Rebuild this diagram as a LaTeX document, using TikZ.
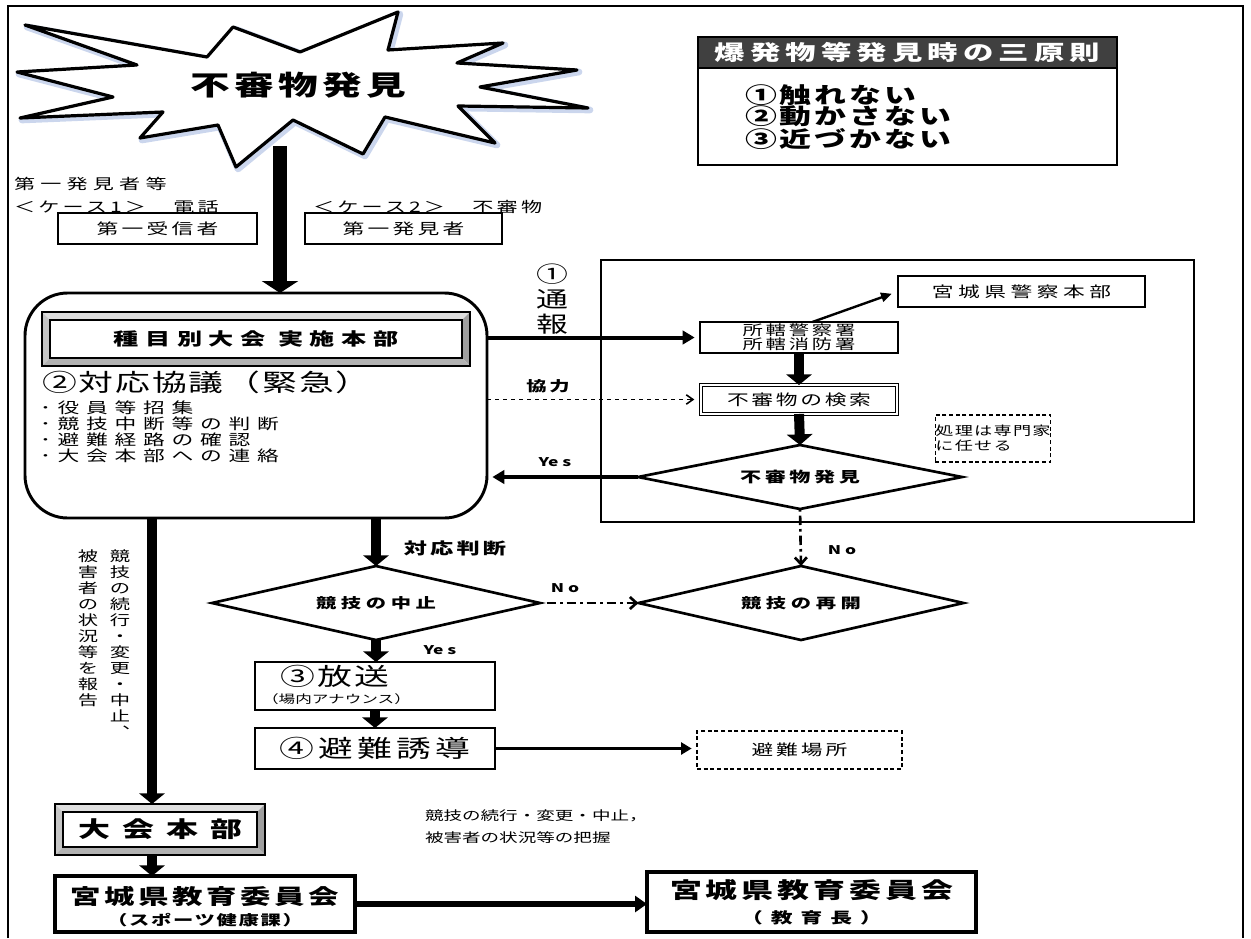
\documentclass[tikz,border=0pt]{standalone}
\usepackage{fontspec}
\setmainfont{Noto Sans CJK JP}[FakeStretch=1.45]
\usetikzlibrary{arrows.meta,shapes.geometric,calc}
\definecolor{hdrgray}{HTML}{404040}
\definecolor{halo}{RGB}{140,165,215}
\newcommand\fz[3]{\fontsize{#1}{#2}\selectfont\addfontfeatures{LetterSpace=#3}}
\newcommand\bevelframe[2]{%
  \fill[gray!25] (#1.north west) -- (#1.north east) -- ($(#1.north east)+(-#2,-#2)$) -- ($(#1.north west)+(#2,-#2)$) -- cycle;
  \fill[gray!45] (#1.north west) -- ($(#1.north west)+(#2,-#2)$) -- ($(#1.south west)+(#2,#2)$) -- (#1.south west) -- cycle;
  \fill[gray!75] (#1.north east) -- (#1.south east) -- ($(#1.south east)+(-#2,#2)$) -- ($(#1.north east)+(-#2,-#2)$) -- cycle;
  \fill[gray!60] (#1.south west) -- (#1.south east) -- ($(#1.south east)+(-#2,#2)$) -- ($(#1.south west)+(#2,#2)$) -- cycle;
  \draw[line width=1.1pt] (#1.north west) rectangle (#1.south east);
  \draw[line width=0.9pt] ($(#1.north west)+(#2,-#2)$) rectangle ($(#1.south east)+(-#2,#2)$);
}
\tikzset{
  every node/.style={inner sep=0pt, outer sep=0pt},
  sz/.code 2 args={\pgfmathsetmacro\szw{#1*0.75}\pgfmathsetmacro\szh{#2*0.75}%
    \edef\szdo{\noexpand\pgfkeysalso{minimum width=\szw pt,minimum height=\szh pt}}\szdo},
  thinbox/.style={draw, line width=1.1pt},
  dashbox/.style={draw, densely dashed, line width=0.8pt},
  thickarrow/.style={line width=7.5pt, -{Triangle[length=8pt,width=19pt]}},
  burstarrow/.style={line width=11pt, -{Triangle[length=9pt,width=27pt]}},
  medarrow/.style={line width=3pt, -{Triangle[length=9pt,width=10pt]}, shorten >=4pt},
  thinarrow/.style={line width=1.8pt, -{Triangle[length=8pt,width=7pt]}, shorten >=5pt},
  cooparrow/.style={line width=0.9pt, dashed, -{Straight Barb[length=5pt,width=7pt,line width=1.2pt]}, shorten >=5pt},
  noarrow/.style={line width=2pt, dash pattern=on 2pt off 3pt on 7pt off 3pt, -{Straight Barb[length=5pt,width=9pt]}},
  decision/.style={draw, diamond, aspect=5, line width=2pt},
}
\begin{document}
\begin{tikzpicture}[x=0.75pt,y=-0.75pt]
\useasboundingbox (0,0) rectangle (1251,938);
% outer frame
\draw[line width=1.3pt] (8,938) -- (8,6) -- (1243,6) -- (1243,938);

% starburst
\draw[line width=5pt, halo, opacity=0.45, line join=round, shift={(2,2)}]
 (25,25) -- (207,57) -- (233,27) -- (300,52) -- (398,12) -- (388,50) -- (503,43) -- (457,63) -- (577,70) -- (480,87) -- (588,108) -- (458,106) -- (495,143) -- (385,117) -- (363,154) -- (293,120) -- (236,167) -- (218,125) -- (140,138) -- (163,112) -- (20,118) -- (113,97) -- (17,72) -- (137,65) -- cycle;
\draw[line width=2.4pt, fill=white, line join=round]
 (25,25) -- (207,57) -- (233,27) -- (300,52) -- (398,12) -- (388,50) -- (503,43) -- (457,63) -- (577,70) -- (480,87) -- (588,108) -- (458,106) -- (495,143) -- (385,117) -- (363,154) -- (293,120) -- (236,167) -- (218,125) -- (140,138) -- (163,112) -- (20,118) -- (113,97) -- (17,72) -- (137,65) -- cycle;
\node[font=\bfseries\fz{20.5}{22}{16}] (burstT) at (298,85) {不審物発見};

% three principles
\node[draw, line width=1.5pt, sz={419}{128}, anchor=north west] (rules) at (698,37) {};
\node[fill=hdrgray, draw=black, line width=0.8pt, sz={419}{31}, anchor=north west, text=white,
      font=\bfseries\fz{15.75}{18}{24}] (hdr) at (698,37) {爆発物等発見時の三原則};
\node[anchor=north west, align=left, font=\bfseries\fz{16.5}{15.75}{14}] (rulesT) at (745,85) {①触れない\\②動かさない\\③近づかない};

% first finder labels
\node[anchor=west, font=\fz{10.9}{12}{36}] (fst) at (14,184) {第一発見者等};
\node[anchor=west, font=\fz{10.9}{12}{22}] (c1) at (14,207) {＜ケース1＞　電話};
\node[anchor=west, font=\fz{10.9}{12}{22}] (c2) at (313,207) {＜ケース2＞　不審物};
\node[thinbox, sz={199}{31}, font=\fz{11.25}{12}{22}] (recv) at (157.5,228.5) {第一受信者};
\node[thinbox, sz={197}{31}, font=\fz{11.25}{12}{22}] (finder) at (403.5,228.5) {第一発見者};

% big rounded box
\node[draw, line width=2.2pt, rounded corners=32pt, sz={462}{225}] (rb) at (256,405.5) {};
\node[sz={428}{54}, font=\bfseries\fz{13}{14}{38}] (jhq) at (256,339) {種目別大会 実施本部};
\bevelframe{jhq}{6pt}
\node[anchor=west, font=\fz{18}{20}{8}] (kyo) at (42,382) {②対応協議（緊急）};
\node[anchor=north west, align=left, font=\fz{11.25}{12}{45}] (bul) at (40,401) {･役員等招集\\･競技中断等の判断\\･避難経路の確認\\･大会本部への連絡};

\coordinate (bs) at (280,146);
\draw[burstarrow] (bs) -- (bs |- rb.north);

% right area
\node[thinbox, sz={593}{262}, anchor=north west] (area) at (601,260) {};
\node[align=center, font=\fz{16.5}{18.75}{0}] (tsuho) at (552,299) {①\\通\\報};
\node[thinbox, sz={198}{31}, align=center, font=\fz{10.5}{10.5}{20}] (sho) at (799,337.5) {所轄警察署\\所轄消防署};
\node[thinbox, sz={247}{31}, font=\fz{11.25}{12}{30}] (pol) at (1021.5,291.5) {宮城県警察本部};
\node[draw, double, double distance=1.5pt, line width=0.6pt, sz={196}{29}, font=\fz{11.25}{12}{18}] (ken) at (799,399.5) {不審物の検索};
\node[decision, sz={324}{64}, font=\bfseries\fz{10.9}{12}{25}] (d1) at (800,477) {不審物発見};
\node[dashbox, sz={106}{47}, align=left, font=\fz{9.4}{11.5}{10}] (sen) at (993,438.5) {処理は専門家\\に任せる};

\draw[medarrow] (rb.east |- sho.west) -- (sho.west);
\draw[thinarrow] ($(sho.north)+(10pt,0)$) -- (pol.west);
\draw[thickarrow] (sho.south) -- (ken.north);
\draw[cooparrow] (rb.east |- ken.west) -- (ken.west);
\node[font=\bfseries\fz{10.5}{12}{20}] (kyoryoku) at (548,386) {協力};
\draw[thickarrow] (ken.south) -- (d1.north);
\draw[medarrow] (d1.west) -- (rb.east |- d1.west);
\node[font=\bfseries\fz{9}{10}{0}] (yes1) at (555,462) {Ye s};

% decisions
\node[decision, sz={328}{74}, font=\bfseries\fz{10.5}{12}{33}] (d2) at (376,603) {競技の中止};
\node[decision, sz={325}{74}, font=\bfseries\fz{10.5}{12}{33}] (d3) at (801,603) {競技の再開};
\draw[thickarrow] (d2.north |- rb.south) -- (d2.north);
\node[font=\bfseries\fz{12}{14}{20}] (taiou) at (455,548) {対応判断};
\draw[noarrow] (d2.east) -- (d3.west);
\node[font=\bfseries\fz{9}{10}{0}] (no1) at (565,588) {N o};
\draw[noarrow] (d1.south) -- (d3.north);
\node[font=\bfseries\fz{9}{10}{0}] (no2) at (842,550) {N o};

% broadcast / evacuation
\node[draw, line width=1.5pt, sz={240}{48}] (ho) at (375,686) {};
\node[anchor=west, font=\fz{18}{20}{10}] (hoT) at (280,676) {③放送};
\node[anchor=west, font=\fz{8.6}{10}{0}] (hoS) at (262,699) {（場内アナウンス）};
\draw[thickarrow] (d2.south) -- (d2.south |- ho.north);
\node[font=\bfseries\fz{9}{10}{0}] (yes2) at (440,650) {Ye s};
\node[draw, line width=1.5pt, sz={240}{41}, font=\fz{18}{20}{17}] (yu) at (375,748.5) {④避難誘導};
\draw[thickarrow] (ho.south) -- (ho.south |- yu.north);
\node[dashbox, sz={205}{38}, font=\fz{11.25}{12}{20}] (basho) at (799.5,750) {避難場所};
\draw[line width=2.2pt, -{Triangle[length=8pt,width=9pt]}, shorten >=4pt] (yu.east) -- (yu.east -| basho.west);

% left report line
\coordinate (lx) at (152,0);
\node[anchor=north, align=center, font=\fz{10.5}{12}{0}] (vt1) at (120,550) {競\\技\\の\\続\\行\\・\\変\\更\\・\\中\\止\\︑};
\node[anchor=north, align=center, font=\fz{10.5}{12}{0}] (vt2) at (88,550) {被\\害\\者\\の\\状\\況\\等\\を\\報\\告};

% tournament HQ
\node[sz={210}{51}, font=\bfseries\fz{16.5}{18}{55}] (hq) at (160,829.5) {大会本部};
\bevelframe{hq}{6pt}
\draw[thickarrow] (lx |- rb.south) -- (lx |- hq.north);
\node[anchor=west, align=left, font=\fz{9.6}{16.5}{0}] (hqnote) at (425,827) {競技の続行・変更・中止，\\被害者の状況等の把握};

% board of education
\node[draw, line width=2.6pt, sz={300}{56}] (ed1) at (205,904) {};
\node[font=\bfseries\fz{15.75}{18}{17}] (ed1a) at (205,896) {宮城県教育委員会};
\node[font=\bfseries\fz{10.5}{12}{12}] (ed1b) at (205,920) {（スポーツ健康課）};
\node[draw, line width=2.6pt, sz={329}{60}] (ed2) at (811.5,902) {};
\node[font=\bfseries\fz{16.5}{18}{18}] (ed2a) at (811.5,890) {宮城県教育委員会};
\node[font=\bfseries\fz{11.25}{12}{20}] (ed2b) at (811.5,918) {（ 教 育 長 ）};
\draw[thickarrow] (lx |- hq.south) -- (lx |- ed1.north);
\draw[line width=4.5pt, -{Triangle[length=9pt,width=12pt]}] (ed1.east) -- (ed1.east -| ed2.west);
\end{tikzpicture}
\end{document}
